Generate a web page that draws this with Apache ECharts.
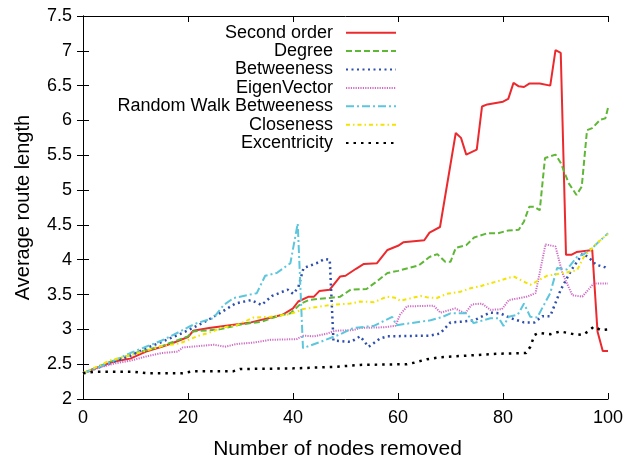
<!DOCTYPE html>
<html>
<head>
<meta charset="utf-8">
<script src="https://cdn.jsdelivr.net/npm/echarts@6/dist/echarts.min.js"></script>
<style>
html, body { margin: 0; padding: 0; background: #fff; }
#chart { width: 637px; height: 459px; }
</style>
</head>
<body>
<div id="chart"></div>
<script>
// [nodes removed, average route length]
var secondOrder = [[0,2.37],[3,2.46],[6,2.54],[9,2.58],[12,2.68],[15,2.75],[17,2.8],[20,2.89],[21,2.98],[24,3.02],[28,3.06],[32,3.1],[38,3.21],[40,3.3],[41,3.4],[43,3.47],[44,3.47],[45,3.55],[47,3.57],[49,3.76],[50,3.77],[52,3.87],[53.5,3.94],[56,3.95],[58,4.14],[60,4.2],[61,4.25],[65,4.28],[66,4.39],[68,4.47],[71,5.82],[72,5.75],[73,5.51],[75,5.58],[76,6.2],[77,6.23],[80,6.27],[81,6.31],[82,6.54],[83,6.49],[84,6.48],[85,6.53],[87,6.53],[89,6.5],[90,7.01],[91,6.97],[92,4.07],[93,4.07],[94,4.11],[96,4.13],[97,4.14],[98,2.97],[99,2.69],[100,2.69]];
var degree = [[0,2.37],[5,2.53],[10,2.66],[15,2.76],[20,2.9],[21,2.97],[26,3.0],[30,3.07],[34,3.11],[37.5,3.2],[39.5,3.23],[41.5,3.37],[43,3.42],[45,3.44],[47,3.45],[49,3.47],[51,3.57],[54,3.58],[56,3.69],[58,3.81],[60,3.84],[64,3.92],[66,4.04],[67.5,4.08],[69,3.97],[70,3.97],[71,4.17],[73,4.21],[74.5,4.32],[77,4.38],[79,4.38],[81,4.42],[83,4.43],[84,4.55],[85,4.76],[86,4.76],[87,4.71],[88,5.46],[90,5.51],[91,5.39],[92.5,5.1],[94,4.93],[95,5.05],[96,5.86],[97,5.89],[98.5,6.01],[99.5,6.03],[100,6.18]];
var betweeness = [[0,2.37],[5,2.51],[9,2.62],[12,2.73],[15,2.82],[19,2.95],[23,3.1],[26,3.23],[29,3.37],[32,3.42],[34,3.35],[36,3.48],[39,3.57],[40,3.51],[41,3.6],[42,3.88],[44.5,3.95],[46,4.01],[47,4.0],[47.7,2.84],[48,2.82],[51,2.82],[52.8,2.9],[54.4,2.75],[56.6,2.87],[58,2.9],[66,2.91],[68,2.94],[70,3.1],[72,3.11],[74.5,3.13],[77.5,3.24],[79.5,3.23],[81.5,3.16],[84,3.1],[86,3.1],[87.5,3.19],[89,3.19],[91,3.57],[93,3.85],[95.2,4.09],[96.5,4.02],[97.7,3.93],[99.5,3.89],[100,3.86]];
var eigenVector = [[0,2.37],[3,2.45],[6,2.51],[9,2.55],[12,2.61],[15,2.66],[18,2.68],[19,2.74],[25,2.78],[27,2.75],[29.3,2.79],[32.5,2.81],[35.7,2.85],[40.7,2.86],[42,2.91],[44,2.9],[46.5,2.94],[48,2.98],[51.5,2.99],[52.8,3.02],[57.3,3.03],[59.5,3.05],[60.4,3.21],[61.7,3.33],[66.8,3.34],[68.1,3.24],[70.9,3.3],[72.8,3.23],[74.1,3.36],[76,3.37],[77.6,3.28],[79.8,3.29],[81.1,3.42],[84.6,3.47],[86.2,3.52],[88.1,4.22],[90,4.19],[91.3,3.81],[93.2,3.49],[95.1,3.47],[97.3,3.66],[100,3.66]];
var randomWalk = [[0,2.37],[5,2.52],[9,2.66],[12,2.75],[15,2.84],[18.5,2.97],[20,3.03],[21.7,3.09],[24.8,3.16],[26.8,3.35],[28.7,3.45],[33.1,3.52],[34.7,3.77],[36.9,3.81],[39.5,3.95],[40.9,4.52],[41.9,2.73],[45.2,2.82],[49,2.93],[51.5,3.02],[55.4,3.05],[58.9,3.18],[59.7,3.06],[66.2,3.13],[68.5,3.18],[70,3.23],[73.1,3.23],[74.4,3.09],[77.6,3.16],[79.2,3.16],[80.1,3.05],[81.1,3.18],[82.8,3.21],[84,3.37],[85.2,3.18],[86.5,3.17],[89,3.52],[90.3,3.88],[92.2,3.86],[94.1,4.04],[95.4,4.08],[97.3,4.19],[100,4.38]];
var closeness = [[0,2.37],[5,2.55],[10,2.65],[15,2.76],[18.5,2.8],[21.7,2.9],[24.8,2.97],[26.1,3.02],[29.3,3.06],[32.5,3.17],[35.7,3.18],[38.8,3.21],[40.7,3.25],[41.7,3.29],[44.6,3.32],[47.1,3.35],[50.9,3.37],[52.8,3.4],[55.4,3.39],[57.9,3.47],[59.8,3.45],[60.4,3.41],[64.3,3.48],[65.5,3.46],[67.4,3.45],[69.3,3.51],[71.9,3.54],[73.8,3.59],[75.7,3.62],[78.9,3.69],[82,3.76],[85.2,3.64],[88.4,3.77],[91.6,3.81],[94.1,3.85],[95.4,4.04],[97.9,4.24],[100,4.37]];
var excentricity = [[0,2.37],[2,2.39],[9.6,2.39],[12.1,2.37],[19,2.37],[21,2.4],[28.7,2.4],[29.9,2.43],[40.1,2.44],[47.7,2.46],[52.8,2.49],[61.7,2.5],[63,2.52],[65.5,2.57],[68.1,2.6],[72.5,2.62],[78.9,2.65],[84.4,2.66],[85.2,2.75],[86,2.92],[86.8,2.95],[89,2.93],[90.9,2.97],[93.5,2.93],[95.2,2.92],[96.2,2.97],[97.3,3.04],[98.6,2.99],[100,3.0]];

var xTicks = [0, 100, 20];      // min, max, step
var yTicks = [2, 7.5, 0.5];

var FONT = 'Liberation Sans, Arial, sans-serif';

function mkSeries(name, data, color, type, width) {
  return {
    name: name,
    type: 'line',
    data: data,
    symbol: 'none',
    animation: false,
    lineStyle: { color: color, width: width, type: type },
    itemStyle: { color: color }
  };
}

var myChart = echarts.init(document.getElementById('chart'));
var axisCommon = {
  type: 'value',
  axisLine: { show: true, lineStyle: { color: '#000', width: 1 } },
  axisTick: { show: true, inside: true, length: 6, lineStyle: { color: '#000' } },
  splitLine: { show: false }
};

myChart.setOption({
  animation: false,
  backgroundColor: '#fff',
  grid: { left: 83, right: 29, top: 16, bottom: 60, outerBoundsMode: 'none' },
  legend: {
    orient: 'vertical',
    align: 'right',
    right: 240,
    top: 23.5,
    padding: 0,
    itemGap: 0,
    itemWidth: 50,
    itemHeight: 2,
    itemStyle: { opacity: 0 },
    textStyle: { fontFamily: FONT, fontSize: 18, color: '#000', lineHeight: 18.4, padding: [0, 8, 0, 0] },
    data: ['Second order', 'Degree', 'Betweeness', 'EigenVector', 'Random Walk Betweeness', 'Closeness', 'Excentricity']
  },
  xAxis: [
    Object.assign({}, axisCommon, {
      position: 'bottom',
      min: xTicks[0], max: xTicks[1], interval: xTicks[2],
      name: 'Number of nodes removed',
      nameLocation: 'middle',
      nameGap: 40,
      nameTextStyle: { fontFamily: FONT, fontSize: 21, color: '#000', padding: [0, 16, 0, 0] },
      axisLabel: { fontFamily: FONT, fontSize: 18, color: '#000', margin: 10 }
    }),
    Object.assign({}, axisCommon, {
      position: 'top',
      min: xTicks[0], max: xTicks[1], interval: xTicks[2],
      axisLabel: { show: false }
    })
  ],
  yAxis: [
    Object.assign({}, axisCommon, {
      position: 'left',
      min: yTicks[0], max: yTicks[1], interval: yTicks[2],
      name: 'Average route length',
      nameLocation: 'middle',
      nameGap: 50,
      nameTextStyle: { fontFamily: FONT, fontSize: 20, color: '#000' },
      axisLabel: { fontFamily: FONT, fontSize: 18, color: '#000', margin: 11 }
    }),
    Object.assign({}, axisCommon, {
      position: 'right',
      min: yTicks[0], max: yTicks[1], interval: yTicks[2],
      axisLabel: { show: false }
    })
  ],
  series: [
    mkSeries('Second order', secondOrder, '#ec2a2e', 'solid', 2),
    mkSeries('Degree', degree, '#5fb736', [6, 3], 2),
    mkSeries('Betweeness', betweeness, '#2f4fae', [2, 3.5], 2.5),
    mkSeries('EigenVector', eigenVector, '#cf6cc4', [1.2, 1.2], 2),
    mkSeries('Random Walk Betweeness', randomWalk, '#5cc6dc', [8, 3, 2, 3], 2),
    mkSeries('Closeness', closeness, '#f2e400', [4, 3, 1.5, 3], 2),
    mkSeries('Excentricity', excentricity, '#000000', [2.5, 5], 2.5)
  ]
});
window.addEventListener('resize', function () {
  myChart.resize();
});
</script>
</body>
</html>
